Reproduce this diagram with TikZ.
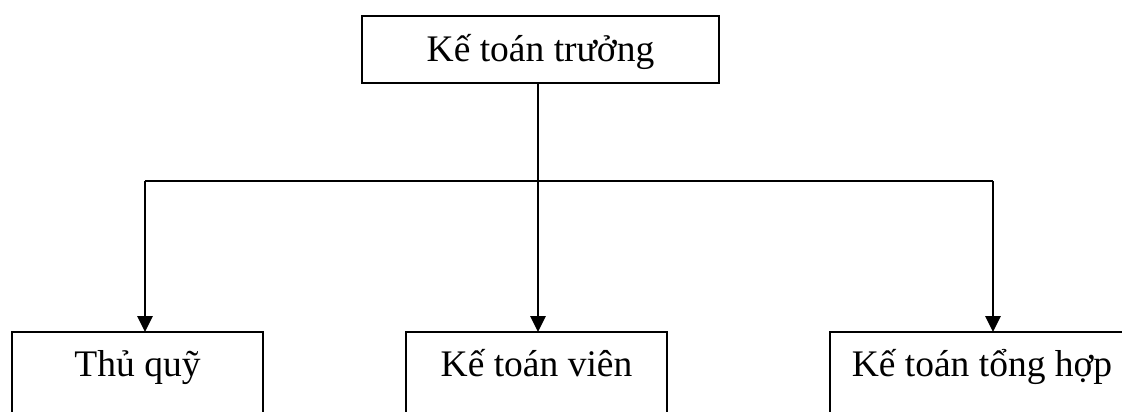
\documentclass[tikz,border=0pt]{standalone}
\usepackage{fontspec}
\setmainfont{Liberation Serif}
\usetikzlibrary{arrows.meta}
\tikzset{
  box/.style={draw=black, line width=2pt, rectangle, inner sep=0pt,
    font=\fontsize{37.5}{40}\selectfont, anchor=north west},
  topbox/.style={box, text height=46pt, text depth=21pt},
  lowbox/.style={box, text height=44pt, text depth=90pt},
  conn/.style={draw=black, line width=2pt},
  arrowc/.style={draw=black, line width=2.8pt, -{Triangle[width=15pt,length=16pt]}, shorten >=-1pt}
}
\begin{document}
\begin{tikzpicture}[x=1pt,y=-1pt]
\useasboundingbox (0,0) rectangle (1122,412);
\clip (0,0) rectangle (1122,412);
\fill[white] (0,0) rectangle (1122,412);
\node[topbox, minimum width=357pt] (top) at (361,15) {Kế toán trưởng};
\node[lowbox, minimum width=251pt] (b1) at (11,331) {Thủ quỹ};
\node[lowbox, minimum width=261pt] (b2) at (405,331) {Kế toán viên};
\node[lowbox, minimum width=304pt] (b3) at (829,331) {Kế toán tổng hợp};
\coordinate (j) at (538,181);
\coordinate (jl) at (145,181);
\coordinate (jr) at (993,181);
\draw[conn] (top.south -| j) -- (j);
\draw[conn] (jl) -- (jr);
\draw[arrowc] (jl) -- (jl |- b1.north);
\draw[arrowc] (j) -- (j |- b2.north);
\draw[arrowc] (jr) -- (jr |- b3.north);
\end{tikzpicture}
\end{document}
